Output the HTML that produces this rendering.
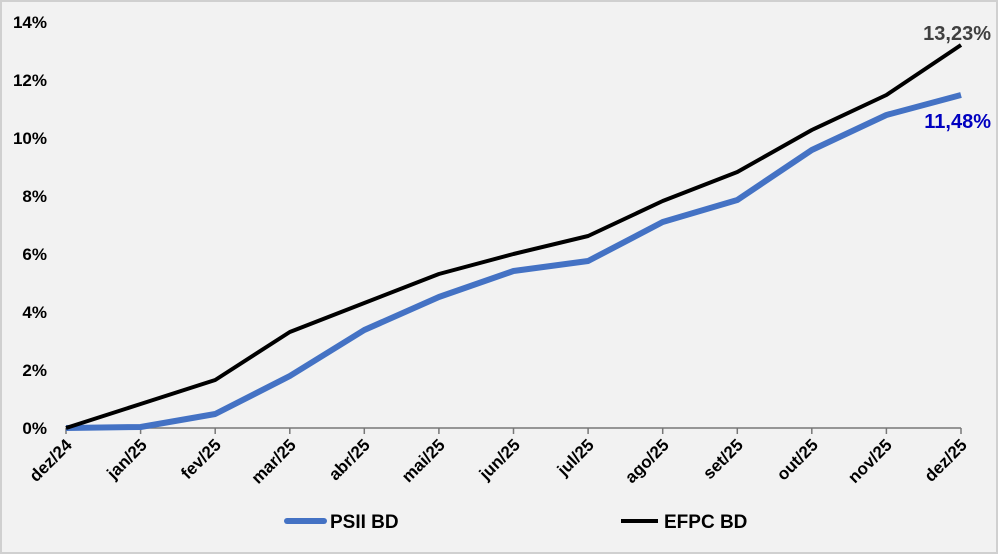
<!DOCTYPE html>
<html><head><meta charset="utf-8"><style>
html,body{margin:0;padding:0;background:#fff}
svg{display:block;font-family:"Liberation Sans",sans-serif;font-weight:bold}
</style></head><body>
<svg width="998" height="554" viewBox="0 0 998 554">
<rect x="1" y="1" width="996" height="552" fill="#f2f2f2" stroke="#d0d0d0" stroke-width="2"/>
<g font-size="17" fill="#000" text-anchor="end">
<text x="47" y="434">0%</text>
<text x="47" y="376">2%</text>
<text x="47" y="318">4%</text>
<text x="47" y="260">6%</text>
<text x="47" y="202">8%</text>
<text x="47" y="144">10%</text>
<text x="47" y="86">12%</text>
<text x="47" y="28">14%</text>
</g>
<line x1="66" y1="428" x2="961" y2="428" stroke="#777" stroke-width="1.5"/>
<g stroke="#777" stroke-width="1.5">
<line x1="66" y1="428" x2="66" y2="434"/><line x1="140.6" y1="428" x2="140.6" y2="434"/><line x1="215.2" y1="428" x2="215.2" y2="434"/><line x1="289.8" y1="428" x2="289.8" y2="434"/><line x1="364.3" y1="428" x2="364.3" y2="434"/><line x1="438.9" y1="428" x2="438.9" y2="434"/><line x1="513.5" y1="428" x2="513.5" y2="434"/><line x1="588.1" y1="428" x2="588.1" y2="434"/><line x1="662.7" y1="428" x2="662.7" y2="434"/><line x1="737.3" y1="428" x2="737.3" y2="434"/><line x1="811.8" y1="428" x2="811.8" y2="434"/><line x1="886.4" y1="428" x2="886.4" y2="434"/><line x1="961" y1="428" x2="961" y2="434"/>
</g>
<g font-size="17" fill="#000" text-anchor="end">
<text transform="translate(73,446) rotate(-45)">dez/24</text>
<text transform="translate(148,446) rotate(-45)">jan/25</text>
<text transform="translate(222,446) rotate(-45)">fev/25</text>
<text transform="translate(297,446) rotate(-45)">mar/25</text>
<text transform="translate(371,446) rotate(-45)">abr/25</text>
<text transform="translate(446,446) rotate(-45)">mai/25</text>
<text transform="translate(521,446) rotate(-45)">jun/25</text>
<text transform="translate(595,446) rotate(-45)">jul/25</text>
<text transform="translate(670,446) rotate(-45)">ago/25</text>
<text transform="translate(744,446) rotate(-45)">set/25</text>
<text transform="translate(819,446) rotate(-45)">out/25</text>
<text transform="translate(893,446) rotate(-45)">nov/25</text>
<text transform="translate(968,446) rotate(-45)">dez/25</text>
</g>
<polyline fill="none" stroke="#4472c4" stroke-width="6" stroke-linejoin="round" points="66,428 140.6,427 215.2,414 289.8,376 364.3,330 438.9,297 513.5,271 588.1,261 662.7,222 737.3,200 811.8,150 886.4,115 961,95"/>
<polyline fill="none" stroke="#000" stroke-width="4" stroke-linejoin="round" points="66,428 140.6,404 215.2,380 289.8,332 364.3,303 438.9,274 513.5,254 588.1,236 662.7,201 737.3,172 811.8,130 886.4,95 961,45"/>
<text x="991" y="40" font-size="20" fill="#404040" text-anchor="end">13,23%</text>
<text x="991" y="128" font-size="20" fill="#0000c0" text-anchor="end">11,48%</text>
<line x1="287" y1="521" x2="324" y2="521" stroke="#4472c4" stroke-width="6" stroke-linecap="round"/>
<text x="330" y="528" font-size="19" fill="#000">PSII BD</text>
<line x1="621" y1="521" x2="658" y2="521" stroke="#000" stroke-width="4"/>
<text x="664" y="528" font-size="19" fill="#000">EFPC BD</text>
</svg>
</body></html>
